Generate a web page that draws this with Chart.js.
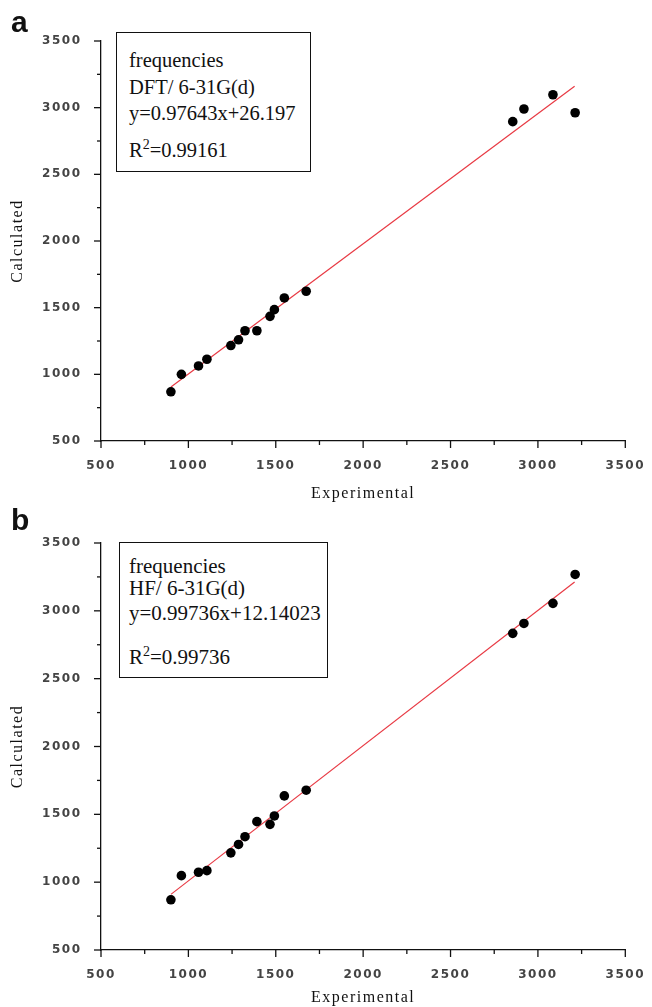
<!DOCTYPE html>
<html>
<head>
<meta charset="utf-8">
<script src="https://cdn.jsdelivr.net/npm/chart.js@4.4.1/dist/chart.umd.min.js"></script>
<style>
  html, body { margin: 0; padding: 0; background: #fff; }
  #wrap { position: relative; width: 652px; height: 1007px; overflow: hidden; }
  .panel { position: absolute; left: 0; width: 652px; }
  .tag { position: absolute; font-family: 'Liberation Sans', Arial, sans-serif; font-weight: bold; font-size: 30px; line-height: 30px; color: #111; }
  .box { position: absolute; border: 1.5px solid #111; box-sizing: border-box; background: #fff;
         font-family: 'Liberation Serif', 'Times New Roman', serif; color: #111; }
  .box div { position: absolute; white-space: nowrap; line-height: 1; }
  .box sup { font-size: 14px; position: relative; top: -8px; vertical-align: baseline; }
</style>
</head>
<body>
<div id="wrap">
  <div class="panel" style="top:0;height:505px"><canvas id="chartA"></canvas></div>
  <div class="panel" style="top:505px;height:502px"><canvas id="chartB"></canvas></div>

  <div class="tag" style="left:11px;top:7px">a</div>
  <div class="tag" style="left:11px;top:505px">b</div>

  <div class="box" style="left:116px;top:32px;width:195px;height:140px;font-size:20.5px">
    <div style="left:12px;top:17px">frequencies</div>
    <div style="left:12px;top:44px">DFT/ 6-31G(d)</div>
    <div style="left:12px;top:70px">y=0.97643x+26.197</div>
    <div style="left:12px;top:107px">R<sup>2</sup>=0.99161</div>
  </div>

  <div class="box" style="left:119px;top:542px;width:209px;height:136px;font-size:21px">
    <div style="left:9px;top:13px">frequencies</div>
    <div style="left:9px;top:35px">HF/ 6-31G(d)</div>
    <div style="left:9px;top:60px">y=0.99736x+12.14023</div>
    <div style="left:9px;top:104px">R<sup>2</sup>=0.99736</div>
  </div>
</div>

<script>
// experimental frequencies (same for both panels)
const expFreq = [900, 960, 1058, 1106, 1243, 1287, 1324, 1392, 1467, 1492, 1549, 1674, 2856, 2920, 3086, 3213]
// calculated frequencies
const dftCalc = [869, 1000, 1063, 1113, 1216, 1259, 1327, 1327, 1435, 1485, 1573, 1623, 2895, 2990, 3097, 2962]
const hfCalc = [870, 1048, 1073, 1085, 1216, 1278, 1335, 1446, 1426, 1488, 1636, 1678, 2834, 2907, 3055, 3268]

// fitted lines, read at both ends
const fitX = [900, 3210]
const dftFitY = [905, 3160]
const hfFitY = [910, 3213]

const axisTicks = [500, 1000, 1500, 2000, 2500, 3000, 3500]

// draw the outward ticks (long at labelled values, short between)
const axisMarks = {
  id: 'axisMarks',
  beforeDraw(chart) {
    chart.ctx.letterSpacing = '1.5px'
  },
  afterDraw(chart) {
    const { ctx } = chart
    const x = chart.scales.x
    const y = chart.scales.y
    ctx.save()
    ctx.strokeStyle = '#111'
    ctx.lineWidth = 1.3
    x.ticks.forEach((t) => {
      const px = x.getPixelForValue(t.value)
      const len = axisTicks.includes(t.value) ? 7 : 4
      ctx.beginPath()
      ctx.moveTo(px, x.top)
      ctx.lineTo(px, x.top + len)
      ctx.stroke()
    })
    y.ticks.forEach((t) => {
      const py = y.getPixelForValue(t.value)
      const len = axisTicks.includes(t.value) ? 7 : 4
      ctx.beginPath()
      ctx.moveTo(y.right, py)
      ctx.lineTo(y.right - len, py)
      ctx.stroke()
    })
    ctx.restore()
    ctx.letterSpacing = '0px'
  },
}

function makeChart(id, calc, fitY, padTop, xHeight, titlePad) {
  const points = expFreq.map((v, i) => ({ x: v, y: calc[i] }))
  const line = fitX.map((v, i) => ({ x: v, y: fitY[i] }))

  const tickFont = { family: 'DejaVu Sans', size: 12, weight: 'bold' }
  const titleFont = { family: "'Liberation Serif', 'Times New Roman', serif", size: 16 }

  return new Chart(document.getElementById(id), {
    type: 'scatter',
    data: {
      datasets: [
        {
          label: 'data',
          data: points,
          backgroundColor: '#000',
          borderWidth: 0,
          pointRadius: 4.8,
        },
        {
          type: 'line',
          label: 'fit',
          data: line,
          borderColor: '#e83a44',
          borderWidth: 1.2,
          pointRadius: 0,
          fill: false,
        },
      ],
    },
    options: {
      responsive: true,
      maintainAspectRatio: false,
      animation: false,
      layout: { padding: { top: padTop, right: 17, left: 0, bottom: 0 } },
      plugins: {
        legend: { display: false },
        tooltip: { enabled: false },
      },
      scales: {
        x: {
          type: 'linear',
          min: 500,
          max: 3500,
          grid: { display: false },
          border: { color: '#111', width: 1.3 },
          ticks: {
            stepSize: 250,
            autoSkip: false,
            maxRotation: 0,
            padding: 10,
            color: '#444',
            font: tickFont,
            callback: (v) => (axisTicks.includes(v) ? v : ''),
          },
          title: {
            display: true,
            text: 'Experimental',
            color: '#111',
            font: titleFont,
            padding: { top: 0, bottom: titlePad },
          },
          afterFit: (s) => { s.height = xHeight },
        },
        y: {
          type: 'linear',
          min: 500,
          max: 3500,
          grid: { display: false },
          border: { color: '#111', width: 1.3 },
          ticks: {
            stepSize: 250,
            autoSkip: false,
            padding: 11.5,
            color: '#444',
            font: tickFont,
            callback: (v) => (axisTicks.includes(v) ? v : ''),
          },
          title: {
            display: true,
            text: 'Calculated',
            color: '#111',
            font: titleFont,
            padding: { top: 8, bottom: 0 },
          },
          afterFit: (s) => { s.width = 101 },
        },
      },
    },
    plugins: [axisMarks],
  })
}

makeChart('chartA', dftCalc, dftFitY, 41, 64, 2)
makeChart('chartB', hfCalc, hfFitY, 38, 57, 0)
</script>
</body>
</html>
